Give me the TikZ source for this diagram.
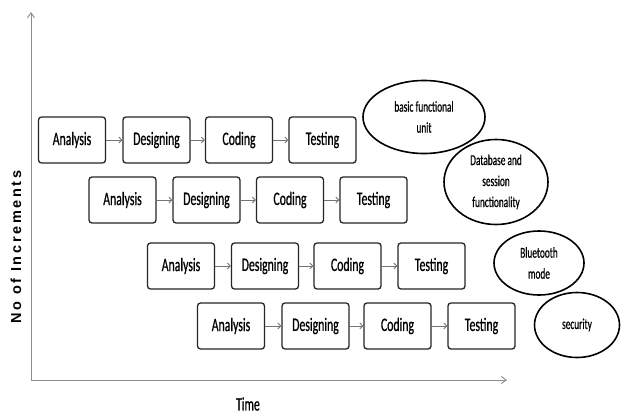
\documentclass[tikz,border=0pt]{standalone}
\usepackage{fontspec}
\newfontfamily\boxfont[FakeStretch=0.62,FakeBold=0.6]{Carlito}
\newfontfamily\axfont[LetterSpace=18]{Liberation Sans}
\usetikzlibrary{arrows.meta,shapes.geometric}
\begin{document}
\begin{tikzpicture}[x=1pt,y=-1pt,
  stage/.style={draw=black!85,line width=1.3pt,rounded corners=3pt,minimum width=67pt,minimum height=46pt,inner sep=0pt,font=\boxfont\fontsize{19}{20}\selectfont},
  goal/.style={draw=black,line width=1.6pt,ellipse,inner sep=0pt,align=center,font=\boxfont\fontsize{15}{21}\selectfont},
  link/.style={draw=black!55,line width=0.8pt,-{Straight Barb[length=3pt,width=6pt]}},
  axis/.style={draw=black!45,line width=0.9pt,-{Straight Barb[length=5pt,width=7pt]}}]
\useasboundingbox[fill=white] (0,0) rectangle (621,415);
% axes
\coordinate (o) at (31,380);
\coordinate (ytop) at (31,12);
\coordinate (xend) at (507,380);
\draw[axis] (o) -- (ytop);
\draw[axis] (o) -- (xend);
\node[rotate=90,font=\axfont\bfseries\fontsize{14.5}{16}\selectfont] (ylab) at (16,247) {No of Increments};
\node[font=\boxfont\fontsize{19}{20}\selectfont] (xlab) at (248,404) {Time};
% row 1
\node[stage] (a1) at (72,140) {Analysis};
\node[stage] (d1) at (156.5,140) {Designing};
\node[stage] (c1) at (239,140) {Coding};
\node[stage] (t1) at (322.5,140) {Testing};
% row 2
\node[stage] (a2) at (122.5,200) {Analysis};
\node[stage] (d2) at (206.5,200) {Designing};
\node[stage] (c2) at (290,200) {Coding};
\node[stage] (t2) at (373.5,200) {Testing};
% row 3
\node[stage] (a3) at (181,266) {Analysis};
\node[stage] (d3) at (265,266) {Designing};
\node[stage] (c3) at (347.5,266) {Coding};
\node[stage] (t3) at (431.5,266) {Testing};
% row 4
\node[stage] (a4) at (231,326) {Analysis};
\node[stage] (d4) at (315.5,326) {Designing};
\node[stage] (c4) at (397.5,326) {Coding};
\node[stage] (t4) at (481.5,326) {Testing};
\foreach \r in {1,2,3,4}{
  \draw[link] (a\r) -- (d\r);
  \draw[link] (d\r) -- (c\r);
  \draw[link] (c\r) -- (t\r);
}
% goals
\node[goal,minimum width=122pt,minimum height=73pt] (g1) at (424,117) {basic functional\\unit};
\node[goal,minimum width=104pt,minimum height=85pt] (g2) at (496,182) {Database and\\session\\functionality};
\node[goal,minimum width=90pt,minimum height=64pt] (g3) at (539,263) {Bluetooth\\mode};
\node[goal,minimum width=85pt,minimum height=65pt] (g4) at (577,325) {security};
\end{tikzpicture}
\end{document}
